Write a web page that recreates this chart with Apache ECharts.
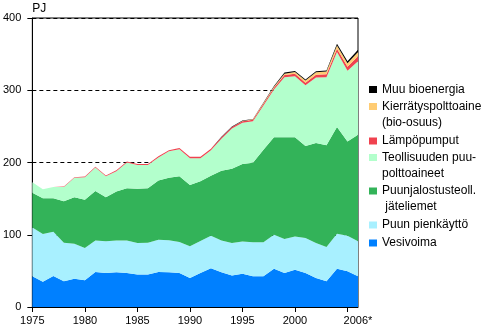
<!DOCTYPE html>
<html>
<head>
<meta charset="utf-8">
<script src="https://cdn.jsdelivr.net/npm/echarts@6/dist/echarts.min.js"></script>
<style>
html,body{margin:0;padding:0;background:#fff;}
#chart{width:493px;height:329px;}
</style>
</head>
<body>
<div id="chart"></div>
<script>
// Years 1975..2006
const years = ['1975','1976','1977','1978','1979','1980','1981','1982','1983','1984','1985','1986','1987','1988','1989','1990',
  '1991','1992','1993','1994','1995','1996','1997','1998','1999','2000','2001','2002','2003','2004','2005','2006'];

// Series values, PJ
const vesivoima = [42.5,35,43,35.5,39,37,48.5,47,48,47,45,45,48.5,48,47,40,
  47,53.5,48,43.5,46,42.5,42.5,53,47,51.5,47,40,35.5,53,49.5,42.5];
const puunPienkaytto = [67.5,66,61,53.5,48.5,44.5,43.5,44,44,45,43.5,44,44.5,44.5,43,44,
  44.5,45,44,45,44.5,47,47,47,47,46,48.5,48.5,47.5,48.5,49,48.5];
const jateliemet = [48,49.5,46.5,57.5,64.5,67,68.5,61,68,72.5,75,75.5,82,86.5,91,85,
  82.5,83,96.5,103,107.5,110,128,135,141,137.5,127.5,138.5,141,147.5,130.5,147.5];
const teollisuudenPuupolttoaineet = [14.5,12.5,15.5,19.5,27,31,32.5,29,28,35.5,33,32,32,36.5,37.5,37,
  32,35.5,44.5,55.5,57,57.5,61.5,66,83,84.5,84,90.5,94,104,98,101.5];
const lampopumput = [0,0,0,0.7,0.7,1,1,1,1.2,1.3,1.4,1.5,1.5,1.6,1.7,1.8,
  1.8,1.9,2,2,2.1,2.2,2.4,2.6,3,3.3,3.5,3.8,4,4.5,5.5,7];
const kierratyspolttoaine = [0,0,0,0,0,0,0,0,0,0,0,0,0,0,0,0,
  0,0,0,0.3,0.5,0.6,0.8,1.2,2,2.5,3,3.5,4,4.5,5,6];
const muuBioenergia = [0,0,0,0,0,0,0,0,0,0,0,0,0,0,0,0,
  0,0,0.5,0.5,0.5,0.5,1,1,1.5,1.5,1.5,1.5,1.5,2.5,2.5,3];

const yTicks = [0,100,200,300,400];

const seriesNames = ['Vesivoima','Puun pienkäyttö','Puunjalostusteoll.\n jäteliemet','Teollisuuden puu-\npolttoaineet',
  'Lämpöpumput','Kierrätyspolttoaine\n(bio-osuus)','Muu bioenergia'];
const seriesData = [vesivoima,puunPienkaytto,jateliemet,teollisuudenPuupolttoaineet,lampopumput,kierratyspolttoaine,muuBioenergia];
const seriesColors = ['#0080FF','#A8F0FF','#33B359','#B3FFCC','#F0424F','#FFCC73','#000000'];

// legend layout (top to bottom)
const legendOrder = [6,5,4,3,2,1,0];
const legendTops = [81.5,82.5,133,133.5,167,217,235];

const font = "'Liberation Sans', Arial, sans-serif";

const chart = echarts.init(document.getElementById('chart'), null, {renderer:'canvas'});

const legends = legendOrder.map((si, k) => {
  const twoLine = seriesNames[si].indexOf('\n') >= 0;
  return {
    orient: 'vertical',
    left: 369,
    top: legendTops[k],
    padding: 0,
    itemWidth: 8,
    itemHeight: 7,
    icon: 'rect',
    data: [seriesNames[si]],
    formatter: function (name) { return twoLine ? ' \n' + name : name; },
    textStyle: {fontFamily: font, fontSize: 12, color: '#000', lineHeight: 16}
  };
});

const option = {
  animation: false,
  backgroundColor: '#fff',
  grid: {left: 30, top: 18, right: 135, bottom: 22, show: true, borderColor: '#000', borderWidth: 1, backgroundColor: 'transparent'},
  legend: legends,
  xAxis: {
    type: 'category',
    data: years,
    boundaryGap: false,
    axisLine: {lineStyle: {color: '#000', width: 1}},
    axisTick: {show: true, length: 5, lineStyle: {color: '#000'},
      interval: function (i) { return i % 5 === 0; }},
    axisLabel: {
      color: '#000', fontFamily: font, fontSize: 11, margin: 8,
      interval: function (i) { return (i % 5 === 0 && i <= 25) || i === years.length - 1; },
      formatter: function (v) { return v === '2006' ? '2006*' : v; }
    },
    splitLine: {show: false}
  },
  yAxis: {
    type: 'value',
    min: yTicks[0],
    max: yTicks[yTicks.length - 1],
    interval: 100,
    name: 'PJ',
    nameLocation: 'end',
    nameGap: 3,
    nameTextStyle: {fontFamily: font, fontSize: 12, color: '#000', align: 'left', padding: [0,0,0,0]},
    axisLine: {show: true, lineStyle: {color: '#000', width: 1}},
    axisTick: {show: true, length: 5, lineStyle: {color: '#000'}},
    axisLabel: {color: '#000', fontFamily: font, fontSize: 11, margin: 11},
    splitLine: {show: true, lineStyle: {color: '#000', width: 1, type: [4,3]}}
  },
  series: seriesNames.map((n, i) => ({
    name: n,
    type: 'line',
    stack: 'total',
    data: seriesData[i],
    symbol: 'none',
    lineStyle: {width: 0},
    areaStyle: {color: seriesColors[i], opacity: 1},
    itemStyle: {color: seriesColors[i]},
    emphasis: {disabled: true}
  }))
};
chart.setOption(option);
</script>
</body>
</html>
